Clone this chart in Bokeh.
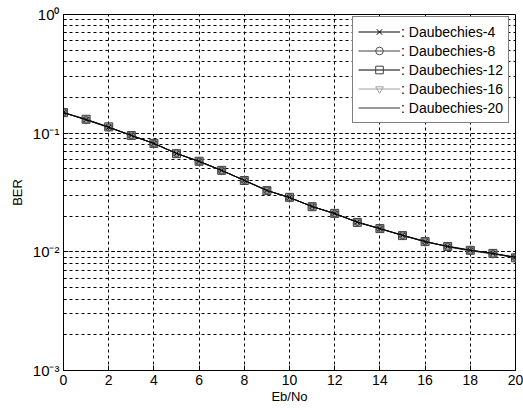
from bokeh.plotting import figure
from bokeh.models import Legend, LegendItem, FixedTicker, LogTicker
from bokeh.embed import file_html
from bokeh.resources import INLINE

ebno = list(range(0, 21))
ber_db4 = [0.149, 0.130, 0.112, 0.0957, 0.0819, 0.0675, 0.0578, 0.0485, 0.0400, 0.0329, 0.0287,
           0.0241, 0.0210, 0.0178, 0.0157, 0.0138, 0.0122, 0.0111, 0.0103, 0.0097, 0.0090]
ber_db8 = [0.150, 0.129, 0.112, 0.0960, 0.0815, 0.0678, 0.0576, 0.0483, 0.0402, 0.0330, 0.0285,
           0.0242, 0.0209, 0.0179, 0.0156, 0.0138, 0.0123, 0.0110, 0.0102, 0.0096, 0.0090]
ber_db12 = [0.149, 0.131, 0.113, 0.0955, 0.0820, 0.0672, 0.0580, 0.0486, 0.0399, 0.0328, 0.0288,
            0.0240, 0.0211, 0.0177, 0.0157, 0.0137, 0.0122, 0.0111, 0.0103, 0.0097, 0.0089]
ber_db16 = [0.148, 0.130, 0.111, 0.0958, 0.0818, 0.0676, 0.0579, 0.0484, 0.0401, 0.0331, 0.0286,
            0.0241, 0.0210, 0.0178, 0.0158, 0.0138, 0.0121, 0.0112, 0.0104, 0.0096, 0.0090]
ber_db20 = [0.149, 0.130, 0.112, 0.0957, 0.0819, 0.0675, 0.0578, 0.0485, 0.0400, 0.0329, 0.0287,
            0.0241, 0.0210, 0.0178, 0.0157, 0.0138, 0.0122, 0.0111, 0.0103, 0.0097, 0.0090]
series_names = [": Daubechies-4", ": Daubechies-8", ": Daubechies-12", ": Daubechies-16", ": Daubechies-20"]
x_ticks = [0, 2, 4, 6, 8, 10, 12, 14, 16, 18, 20]
y_tick_labels = {1e-3: "10⁻³", 1e-2: "10⁻²", 1e-1: "10⁻¹", 1: "10⁰"}

FONT = "Liberation Sans"

p = figure(width=523, height=410, output_backend="svg", toolbar_location=None,
           y_axis_type="log", x_range=(0, 20), y_range=(1e-3, 1),
           min_border_left=63, min_border_right=8, min_border_top=14, min_border_bottom=40,
           background_fill_color="white", border_fill_color="white")
p.outline_line_color = "black"
p.outline_line_width = 1

# axes
p.xaxis.ticker = FixedTicker(ticks=x_ticks)
p.yaxis.ticker = LogTicker(num_minor_ticks=10)
p.yaxis.major_label_overrides = y_tick_labels
p.xaxis.axis_label = "Eb/No"
p.yaxis.axis_label = "BER"
for ax in (p.xaxis[0], p.yaxis[0]):
    ax.axis_line_color = "black"
    ax.major_tick_in = 5
    ax.major_tick_out = 0
    ax.minor_tick_in = 3
    ax.minor_tick_out = 0
    ax.major_label_text_font = FONT
    ax.major_label_text_font_size = "14px"
    ax.major_label_text_color = "black"
    ax.axis_label_text_font = FONT
    ax.axis_label_text_font_size = "13px"
    ax.axis_label_text_font_style = "normal"
    ax.axis_label_text_color = "black"
p.yaxis.major_label_text_font_size = "15px"
p.xaxis.major_label_standoff = 4
p.xaxis.axis_label_standoff = 1
p.yaxis.major_label_standoff = 4
p.yaxis.axis_label_standoff = 5

# grids
p.xgrid.ticker = FixedTicker(ticks=x_ticks)
p.xgrid.grid_line_color = "black"
p.xgrid.grid_line_dash = "3 3"
p.xgrid.grid_line_width = 1
p.ygrid.grid_line_color = "black"
p.ygrid.grid_line_dash = "3 3"
p.ygrid.minor_grid_line_color = "black"
p.ygrid.minor_grid_line_dash = "3 3"

# series
r20 = p.line(ebno, ber_db20, line_color="#303030", line_width=1)
l16 = p.line(ebno, ber_db16, line_color="#a0a0a0", line_width=1)
m16 = p.scatter(ebno, ber_db16, marker="inverted_triangle", size=8, line_color="#a0a0a0", fill_color=None)
l12 = p.line(ebno, ber_db12, line_color="black", line_width=1)
p.scatter(ebno, ber_db12, marker="square", size=8, line_color=None, fill_color="#707070", fill_alpha=0.6)
m12 = p.scatter(ebno, ber_db12, marker="square", size=8, line_color="#404040", fill_color=None)
l8 = p.line(ebno, ber_db8, line_color="#404040", line_width=1)
m8 = p.scatter(ebno, ber_db8, marker="circle", size=7, line_color="#505050", fill_color=None)
l4 = p.line(ebno, ber_db4, line_color="black", line_width=1)
m4 = p.scatter(ebno, ber_db4, marker="x", size=6, line_color="black")

legend = Legend(items=[
    LegendItem(label=series_names[0], renderers=[l4, m4]),
    LegendItem(label=series_names[1], renderers=[l8, m8]),
    LegendItem(label=series_names[2], renderers=[l12, m12]),
    LegendItem(label=series_names[3], renderers=[l16, m16]),
    LegendItem(label=series_names[4], renderers=[r20]),
], location=(289, 247))
legend.border_line_color = "black"
legend.border_line_width = 1
legend.background_fill_color = "white"
legend.background_fill_alpha = 1
legend.label_text_font = FONT
legend.label_text_font_size = "14px"
legend.label_text_color = "black"
legend.glyph_width = 42
legend.glyph_height = 19
legend.label_height = 19
legend.label_standoff = 1
legend.spacing = 0
legend.padding = 5
legend.margin = 0
p.add_layout(legend, "center")

open("out.html", "w").write(file_html(p, INLINE))
